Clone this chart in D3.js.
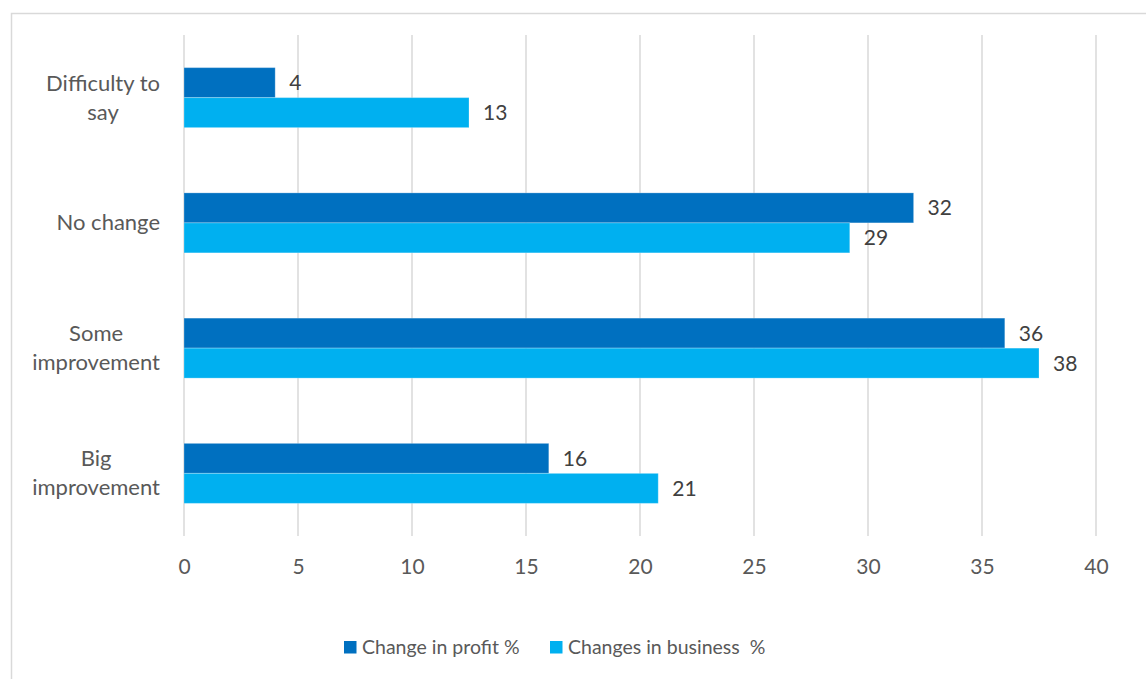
<!DOCTYPE html>
<html>
<head>
<meta charset="utf-8">
<script src="https://cdn.jsdelivr.net/npm/d3@7"></script>
<style>
  html, body { margin: 0; padding: 0; background: #fff; }
  svg { display: block; font-family: Lato, "Open Sans", sans-serif; }
</style>
</head>
<body>
<svg id="chart" width="1146" height="679"></svg>
<script>
// Categories, top to bottom
const categories = ["Difficulty to say", "No change", "Some improvement", "Big improvement"];
// Wrapped category label lines
const categoryLines = [["Difficulty to", "say"], ["No change"], ["Some", "improvement"], ["Big", "improvement"]];
// Series
const seriesNames = ["Change in profit %", "Changes in business  %"];
const profitValues = [4, 32, 36, 16];
const businessValues = [12.5, 29.2, 37.5, 20.8];
const xTicks = [0, 5, 10, 15, 20, 25, 30, 35, 40];

const colors = ["#0070C0", "#00B0F0"];
const svg = d3.select("#chart");

// Outer chart border
svg.append("rect")
  .attr("x", 11.5).attr("y", 13.5)
  .attr("width", 1146).attr("height", 700)
  .attr("fill", "none").attr("stroke", "#d9d9d9").attr("stroke-width", 1.5);

const x = d3.scaleLinear().domain([0, 40]).range([184, 1096]);
const y = d3.scaleBand().domain(categories).range([35, 536]).paddingInner(0.521).paddingOuter(0.2605);
const ySub = d3.scaleBand().domain([0, 1]).range([0, y.bandwidth()]);

// Vertical gridlines
svg.append("g").selectAll("line").data(xTicks).join("line")
  .attr("x1", d => x(d)).attr("x2", d => x(d))
  .attr("y1", 35).attr("y2", 536)
  .attr("stroke", "#d9d9d9").attr("stroke-width", 1.5);

// X axis tick labels
const xAxis = d3.axisBottom(x).tickValues(xTicks).tickSize(0).tickPadding(0);
const gx = svg.append("g").attr("transform", "translate(0,574)").call(xAxis);
gx.select(".domain").remove();
gx.selectAll("text")
  .attr("dy", 0).attr("y", 0)
  .attr("fill", "#595959")
  .style("font-size", "21px")
  .style("font-family", "Lato, 'Open Sans', sans-serif");

// Bars
const rows = categories.map((c, i) => ({ cat: c, vals: [profitValues[i], businessValues[i]] }));
const groups = svg.append("g").selectAll("g").data(rows).join("g")
  .attr("transform", d => `translate(0,${y(d.cat)})`);

groups.selectAll("rect").data(d => d.vals.map((v, k) => ({ v, k }))).join("rect")
  .attr("x", x(0))
  .attr("y", d => ySub(d.k))
  .attr("width", d => x(d.v) - x(0))
  .attr("height", ySub.bandwidth())
  .attr("fill", d => colors[d.k])
  .attr("stroke", "rgba(255,255,255,0.25)")
  .attr("stroke-width", 1);

// Value labels
const fmt = d3.format(".0f");
groups.selectAll("text.val").data(d => d.vals.map((v, k) => ({ v, k }))).join("text")
  .attr("class", "val")
  .attr("x", d => x(d.v) + 14)
  .attr("y", d => ySub(d.k) + ySub.bandwidth() / 2 + 7.5)
  .attr("fill", "#404040")
  .style("font-size", "21px")
  .text(d => fmt(d.v));

// Category labels: block right-aligned to the axis, lines centred within it
const catG = svg.append("g");
categories.forEach((c, i) => {
  const lines = categoryLines[i];
  const cy = y(c) + y.bandwidth() / 2;
  const lh = 29;
  const tmp = lines.map(l => catG.append("text").style("font-size", "22px").attr("fill", "#595959").text(l));
  const maxW = d3.max(tmp, t => t.node().getComputedTextLength());
  const cx = 160 - maxW / 2;
  tmp.forEach((t, j) => {
    t.attr("x", cx)
     .attr("text-anchor", "middle")
     .attr("y", cy + 7.5 + (j - (lines.length - 1) / 2) * lh);
  });
});

// Legend
const legend = svg.append("g");
const legendX = [344, 550];
seriesNames.forEach((name, k) => {
  legend.append("rect")
    .attr("x", legendX[k]).attr("y", 641)
    .attr("width", 12.5).attr("height", 12.5)
    .attr("fill", colors[k]);
  legend.append("text")
    .attr("x", legendX[k] + 18).attr("y", 654)
    .attr("fill", "#595959")
    .style("font-size", "19.5px")
    .style("white-space", "pre")
    .text(name);
});
</script>
</body>
</html>
